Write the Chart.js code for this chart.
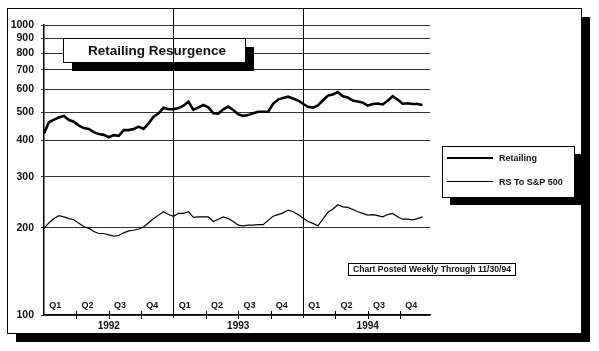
<!DOCTYPE html>
<html>
<head>
<meta charset="utf-8">
<title>Retailing Resurgence</title>
<script src="https://cdn.jsdelivr.net/npm/chart.js@4.4.1/dist/chart.umd.min.js"></script>
<style>
    html, body { margin: 0; padding: 0; background: #fff; }
    canvas { display: block; }
</style>
</head>
<body>
<canvas id="chart" width="599" height="351"></canvas>
<script>
// weekly readings, sampled every other week from the start of 1992
const weeks = [0, 2, 4, 6, 8, 10, 12, 14, 16, 18, 20, 22, 24, 26, 28, 30, 32, 34, 36, 38,
    40, 42, 44, 46, 48, 50, 52, 54, 56, 58, 60, 62, 64, 66, 68, 70, 72, 74, 76, 78,
    80, 82, 84, 86, 88, 90, 92, 94, 96, 98, 100, 102, 104, 106, 108, 110, 112, 114, 116, 118,
    120, 122, 124, 126, 128, 130, 132, 134, 136, 138, 140, 142, 144, 146, 148, 150, 152];

const retailing = [423, 462, 472, 480, 486, 470, 464, 450, 441, 438,
    427, 421, 418, 410, 417, 415, 434, 434, 438, 446,
    438, 458, 483, 496, 518, 512, 512, 517, 527, 544,
    510, 520, 530, 520, 496, 495, 512, 523, 509, 492,
    486, 489, 496, 502, 502, 502, 535, 553, 560, 566,
    558, 549, 535, 522, 519, 528, 550, 571, 576, 587,
    568, 562, 549, 545, 540, 527, 534, 536, 532, 548,
    568, 553, 535, 537, 534, 534, 530];

const rsToSP = [199, 208, 215, 220, 218, 215, 213, 207, 202, 199,
    194, 191, 191, 189, 187, 188, 192, 195, 196, 198,
    201, 208, 215, 221, 227, 222, 219, 224, 224, 227,
    217, 218, 218, 218, 210, 214, 218, 215, 210, 204,
    203, 204, 204, 205, 205, 212, 219, 222, 225, 230,
    227, 222, 216, 210, 207, 203, 214, 226, 232, 240,
    236, 235, 231, 227, 224, 221, 222, 220, 218, 222,
    224, 218, 214, 214, 213, 215, 218];

const seriesNames = ['Retailing', 'RS To S&P 500'];
const yTicks = [100, 200, 300, 400, 500, 600, 700, 800, 900, 1000];
const quarterStarts = [0, 13, 26, 39, 52, 65, 78, 91, 104, 117, 130, 143];
const quarterLabels = ['Q1', 'Q2', 'Q3', 'Q4'];
const yearStarts = [0, 52, 104];
const yearLabels = ['1992', '1993', '1994'];
const chartTitle = 'Retailing Resurgence';
const noteText = 'Chart Posted Weekly Through 11/30/94';

const FONT = '"Liberation Sans", Arial, Helvetica, sans-serif';
Chart.defaults.font.family = FONT;
Chart.defaults.color = '#111';

function boxWithShadow(ctx, x, y, w, h, dx, dy) {
    ctx.fillStyle = '#000';
    ctx.fillRect(x + dx, y + dy, w, h);
    ctx.fillStyle = '#fff';
    ctx.fillRect(x, y, w, h);
    ctx.strokeStyle = '#000';
    ctx.lineWidth = 1;
    ctx.strokeRect(x + 0.5, y + 0.5, w, h);
}

const decorations = {
    id: 'decorations',
    beforeDraw(chart) {
        const ctx = chart.ctx;
        ctx.save();
        boxWithShadow(ctx, 7, 8, 574, 325, 9, 9);
        ctx.restore();
    },
    afterDraw(chart) {
        const ctx = chart.ctx;
        const xs = chart.scales.x;
        const area = chart.chartArea;
        ctx.save();

        // title box
        boxWithShadow(ctx, 63, 38, 182, 24, 9, 9);
        ctx.fillStyle = '#111';
        ctx.font = 'bold 13.5px ' + FONT;
        ctx.textAlign = 'center';
        ctx.textBaseline = 'middle';
        ctx.fillText(chartTitle, 157, 51);

        // year dividers and quarter ticks
        ctx.strokeStyle = '#000';
        ctx.lineWidth = 1;
        quarterStarts.forEach(function(w) {
            if (w === 0) return;
            const px = Math.round(xs.getPixelForValue(w)) + 0.5;
            ctx.beginPath();
            if (yearStarts.includes(w)) {
                ctx.moveTo(px, 8);
                ctx.lineTo(px, area.bottom + 3);
            } else {
                ctx.moveTo(px, area.bottom - 4);
                ctx.lineTo(px, area.bottom + 4);
            }
            ctx.stroke();
        });

        // legend
        boxWithShadow(ctx, 442, 146, 132, 51, 8, 8);
        const widths = [2, 1.2];
        chart.data.datasets.forEach(function(ds, i) {
            const ly = 158 + i * 23.5;
            ctx.strokeStyle = '#000';
            ctx.lineWidth = widths[i];
            ctx.beginPath();
            ctx.moveTo(447, ly);
            ctx.lineTo(493, ly);
            ctx.stroke();
            ctx.fillStyle = '#111';
            ctx.font = 'bold 9px ' + FONT;
            ctx.textAlign = 'left';
            ctx.textBaseline = 'middle';
            ctx.fillText(ds.label, 499, ly + 1);
        });

        // posting note
        ctx.strokeStyle = '#000';
        ctx.lineWidth = 1;
        ctx.strokeRect(348.5, 263.5, 167, 12);
        ctx.fillStyle = '#111';
        ctx.font = 'bold 8.6px ' + FONT;
        ctx.textAlign = 'center';
        ctx.textBaseline = 'middle';
        ctx.fillText(noteText, 432, 270);

        ctx.restore();
    }
};

const ctx = document.getElementById('chart').getContext('2d');

new Chart(ctx, {
    type: 'line',
    data: {
        datasets: [{
            label: seriesNames[0],
            data: weeks.map((w, i) => ({ x: w, y: retailing[i] })),
            borderColor: '#000',
            borderWidth: 2.6,
            pointRadius: 0,
            tension: 0
        }, {
            label: seriesNames[1],
            data: weeks.map((w, i) => ({ x: w, y: rsToSP[i] })),
            borderColor: '#000',
            borderWidth: 1.2,
            pointRadius: 0,
            tension: 0
        }]
    },
    options: {
        responsive: false,
        animation: false,
        layout: {
            padding: { top: 25, right: 169, left: 0, bottom: 0 }
        },
        plugins: {
            legend: { display: false },
            tooltip: { enabled: false }
        },
        scales: {
            // quarter labels sit just above the baseline, inside the plot
            x: {
                type: 'linear',
                axis: 'x',
                position: { y: 100 },
                min: 0,
                max: 155,
                afterBuildTicks: function(scale) {
                    scale.ticks = quarterStarts.map(w => ({ value: w + 4.5 }));
                },
                grid: { display: false, drawTicks: false },
                border: { display: true, color: '#000', width: 1.2 },
                ticks: {
                    autoSkip: false,
                    maxRotation: 0,
                    padding: -15,
                    font: { size: 9, weight: 'bold' },
                    callback: function(value, index) {
                        return quarterLabels[index % 4];
                    }
                }
            },
            years: {
                type: 'linear',
                axis: 'x',
                position: 'bottom',
                min: 0,
                max: 155,
                afterFit: function(scale) { scale.height = 36; },
                afterBuildTicks: function(scale) {
                    scale.ticks = yearStarts.map(w => ({ value: w + 26 }));
                },
                grid: { display: false, drawTicks: false },
                border: { display: false },
                ticks: {
                    autoSkip: false,
                    maxRotation: 0,
                    padding: 5,
                    font: { size: 10, weight: 'bold' },
                    callback: function(value, index) {
                        return yearLabels[index];
                    }
                }
            },
            y: {
                type: 'logarithmic',
                position: 'left',
                min: 100,
                max: 1000,
                afterFit: function(scale) { scale.width = 44; },
                afterBuildTicks: function(scale) {
                    scale.ticks = yTicks.map(v => ({ value: v }));
                },
                grid: {
                    color: '#333',
                    lineWidth: 1,
                    tickLength: 3
                },
                border: { color: '#000', width: 1.5 },
                ticks: {
                    padding: 7,
                    font: { size: 10.5, weight: 'bold' },
                    callback: function(value) {
                        return String(value);
                    }
                }
            }
        }
    },
    plugins: [decorations]
});
</script>
</body>
</html>
